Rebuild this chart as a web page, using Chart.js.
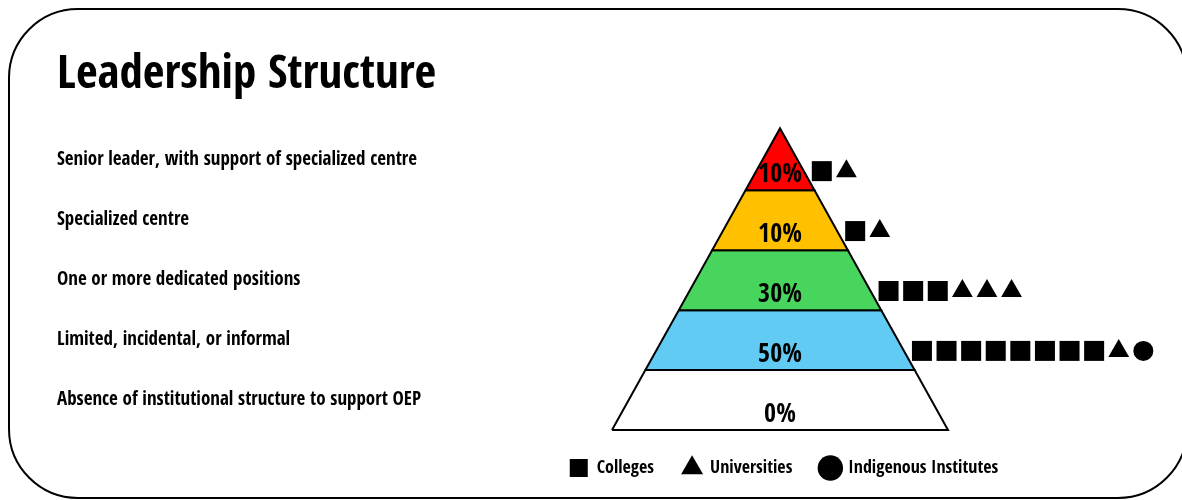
<!DOCTYPE html>
<html>
<head>
<meta charset="utf-8">
<script src="https://cdn.jsdelivr.net/npm/chart.js@4.4.1/dist/chart.umd.min.js"></script>
<style>
    html, body { margin: 0; padding: 0; background: #fff; overflow: hidden; }
    #wrap { position: relative; width: 1182px; height: 500px; }
    #graph { display: block; }
    #frame { position: absolute; left: 8px; top: 8px; width: 1180px; height: 491px; box-sizing: border-box;
             border: 2px solid #000; border-radius: 70px; pointer-events: none; }
</style>
</head>
<body>
<div id="wrap">
    <canvas id="graph" width="1182" height="500"></canvas>
    <div id="frame"></div>
</div>
<script>
// levels from top of the pyramid to the bottom
const levels = [
    'Senior leader, with support of specialized centre',
    'Specialized centre',
    'One or more dedicated positions',
    'Limited, incidental, or informal',
    'Absence of institutional structure to support OEP'
];
const percentages = [10, 10, 30, 50, 0];
const colleges = [1, 1, 3, 8, 0];
const universities = [1, 1, 3, 1, 0];
const indigenous = [0, 0, 0, 1, 0];

const levelColors = ['#ff0000', '#ffc000', '#48d55d', '#61cbf4', '#ffffff'];
const font = '"Open Sans Condensed", "Roboto Condensed", "DejaVu Sans Condensed", sans-serif';

// pyramid shape, in axis units (one unit = one level high)
const apex = 5.033;
const baseHalf = 2.8;
const halfWidth = y => baseHalf * (1 - y / apex);
const levelCenter = i => levels.length - i - 0.5;

const layers = levels.map((name, i) => {
    const bottom = levels.length - i - 1;
    const top = i === 0 ? apex : bottom + 1;
    return {
        type: 'line',
        label: name,
        data: [
            { x: -halfWidth(bottom), y: bottom },
            { x: halfWidth(bottom), y: bottom },
            { x: halfWidth(top), y: top },
            { x: -halfWidth(top), y: top },
            { x: -halfWidth(bottom), y: bottom }
        ],
        borderColor: '#000',
        borderWidth: 2,
        backgroundColor: levelColors[i],
        fill: 'shape',
        pointRadius: 0,
        tension: 0,
        clip: false
    };
});

// one mark per institution, lined up to the right of each level
const marks = { rect: [], triangle: [], circle: [] };
levels.forEach((_, i) => {
    const y = levelCenter(i) - 0.18;
    const kinds = [
        ...Array(colleges[i]).fill('rect'),
        ...Array(universities[i]).fill('triangle'),
        ...Array(indigenous[i]).fill('circle')
    ];
    const start = halfWidth(y) + 0.3;
    kinds.forEach((k, j) => marks[k].push({ x: start + j * 0.41, y: y }));
});

const symbolSets = [
    { label: 'Colleges', data: marks.rect, pointStyle: 'rect', pointRadius: 14.14 },
    { label: 'Universities', data: marks.triangle, pointStyle: 'triangle', pointRadius: 12 },
    { label: 'Indigenous Institutes', data: marks.circle, pointStyle: 'circle', pointRadius: 10 }
].map(d => ({
    ...d,
    type: 'line',
    showLine: false,
    backgroundColor: '#000',
    borderColor: '#000',
    borderWidth: 0,
    pointBorderWidth: 0,
    clip: false
}));

const percentLabels = {
    id: 'percentLabels',
    afterDatasetsDraw(chart) {
        const { ctx, scales: { x, y } } = chart;
        ctx.save();
        ctx.font = 'bold 26px ' + font;
        ctx.fillStyle = '#000';
        ctx.textAlign = 'center';
        ctx.textBaseline = 'middle';
        percentages.forEach((p, i) => {
            ctx.fillText(p + '%', x.getPixelForValue(0), y.getPixelForValue(levelCenter(i) - 0.25));
        });
        ctx.restore();
    }
};

new Chart(document.getElementById('graph'), {
    type: 'line',
    data: { datasets: [...layers, ...symbolSets] },
    options: {
        responsive: false,
        animation: false,
        events: [],
        layout: { padding: { left: 57, right: 36, top: 0, bottom: 13 } },
        scales: {
            x: { type: 'linear', display: false, min: -5.9667, max: 6.1 },
            y: {
                type: 'linear',
                min: 0,
                max: 5.1667,
                grid: { display: false },
                border: { display: false },
                afterBuildTicks: scale => {
                    scale.ticks = levels.map((_, i) => ({ value: levelCenter(i) }));
                },
                afterFit: scale => { scale.width = 365; },
                ticks: {
                    autoSkip: false,
                    crossAlign: 'far',
                    padding: 0,
                    color: '#000',
                    font: { family: font, size: 19, weight: 'bold' },
                    callback: value => levels[Math.round(levels.length - 0.5 - value)]
                }
            }
        },
        plugins: {
            title: {
                display: true,
                text: 'Leadership Structure',
                align: 'start',
                color: '#000',
                font: { family: font, size: 47, weight: 'bold' },
                padding: { top: 48, bottom: 16 }
            },
            legend: {
                position: 'bottom',
                fullSize: false,
                labels: {
                    usePointStyle: true,
                    color: '#000',
                    padding: 29,
                    font: { family: font, size: 18, weight: 'bold' },
                    filter: item => item.datasetIndex >= levels.length
                }
            },
            tooltip: { enabled: false }
        }
    },
    plugins: [percentLabels]
});
</script>
</body>
</html>
